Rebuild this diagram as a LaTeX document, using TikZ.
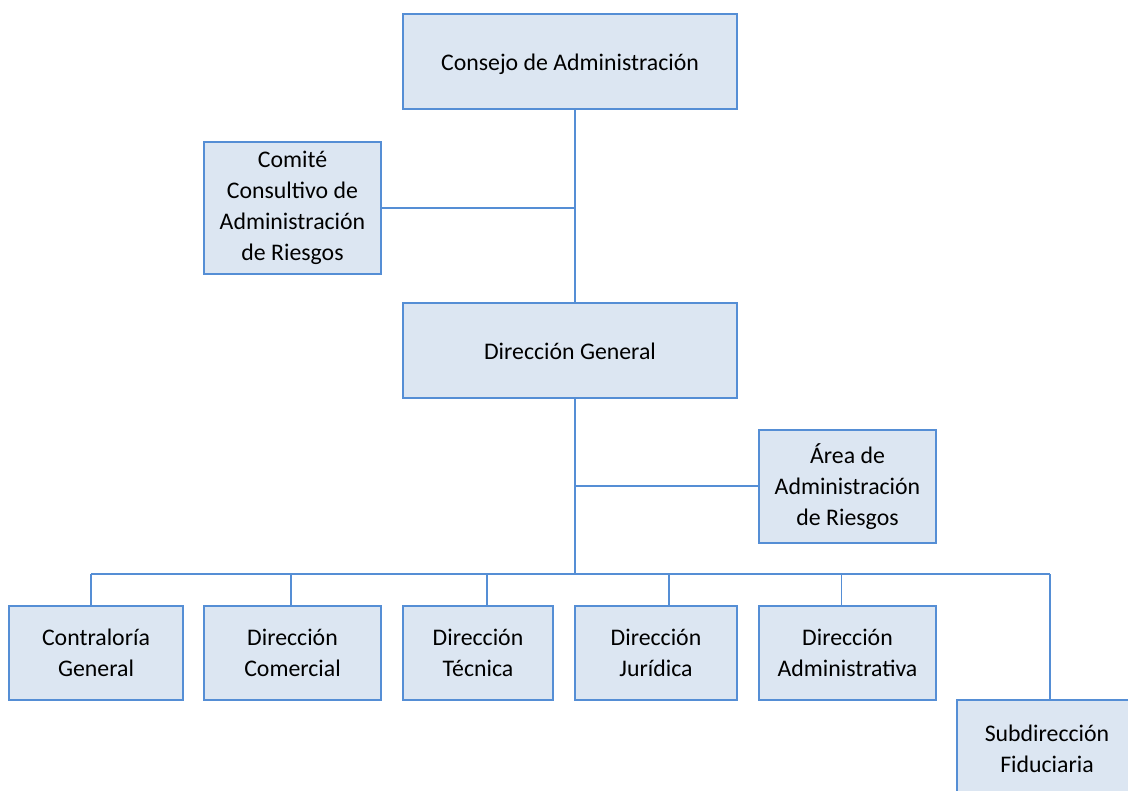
\documentclass[tikz,border=0pt]{standalone}
\usepackage{fontspec}
\setmainfont{Carlito}
\definecolor{boxline}{HTML}{558ED5}
\definecolor{boxfill}{HTML}{DCE6F2}
\tikzset{
	box/.style={draw=boxline, fill=boxfill, line width=2.5pt, align=center, inner sep=0pt, font=\fontsize{23.8}{31}\selectfont},
	oneline/.style={text height=19pt, text depth=0pt},
	link/.style={draw=boxline, line width=2pt},
	drop/.style={draw=boxline, line width=1.5pt}
}
\begin{document}
\begin{tikzpicture}[x=1pt,y=-1pt]
		\useasboundingbox (0,0) rectangle (1128,791);
		\clip (0,0) rectangle (1128,791);
		\node[box, oneline, minimum width=334, minimum height=95] (consejo) at (570,61.5) {Consejo de Administración};
		\node[box, minimum width=177, minimum height=132] (comite) at (292.5,208) {Comité\\Consultivo de\\Administración\\de Riesgos};
		\node[box, oneline, minimum width=334, minimum height=95] (general) at (570,350.5) {Dirección General};
		\node[box, minimum width=177, minimum height=113] (area) at (847.5,486.5) {Área de\\Administración\\de Riesgos};
		\node[box, minimum width=174, minimum height=94] (contraloria) at (96,653) {Contraloría\\General};
		\node[box, minimum width=177, minimum height=94] (comercial) at (292.5,653) {Dirección\\Comercial};
		\node[box, minimum width=150, minimum height=94] (tecnica) at (478,653) {Dirección\\Técnica};
		\node[box, minimum width=162, minimum height=94] (juridica) at (656,653) {Dirección\\Jurídica};
		\node[box, minimum width=177, minimum height=94] (administrativa) at (847.5,653) {Dirección\\Administrativa};
		\node[box, minimum width=180, minimum height=97] (subdir) at (1047,748.5) {Subdirección\\Fiduciaria};
		\coordinate (bus) at (575,574);
		\draw[link] ([xshift=5]consejo.south) -- ([xshift=5]general.north);
		\draw[link] ([xshift=5]general.south) -- (bus);
		\draw[link] (comite.east) -- (comite.east -| bus);
		\draw[link] (area.west) -- (area.west -| bus);
		\foreach \n/\s in {contraloria/-5,comercial/-1.5,tecnica/9,juridica/13,administrativa/-6,subdir/3}{
			\path ([xshift=\s]\n.north) coordinate (top-\n);
			\draw[drop] (top-\n) -- (top-\n |- bus);
		}
		\draw[link] (top-contraloria |- bus) -- (top-subdir |- bus);
	\end{tikzpicture}
\end{document}
